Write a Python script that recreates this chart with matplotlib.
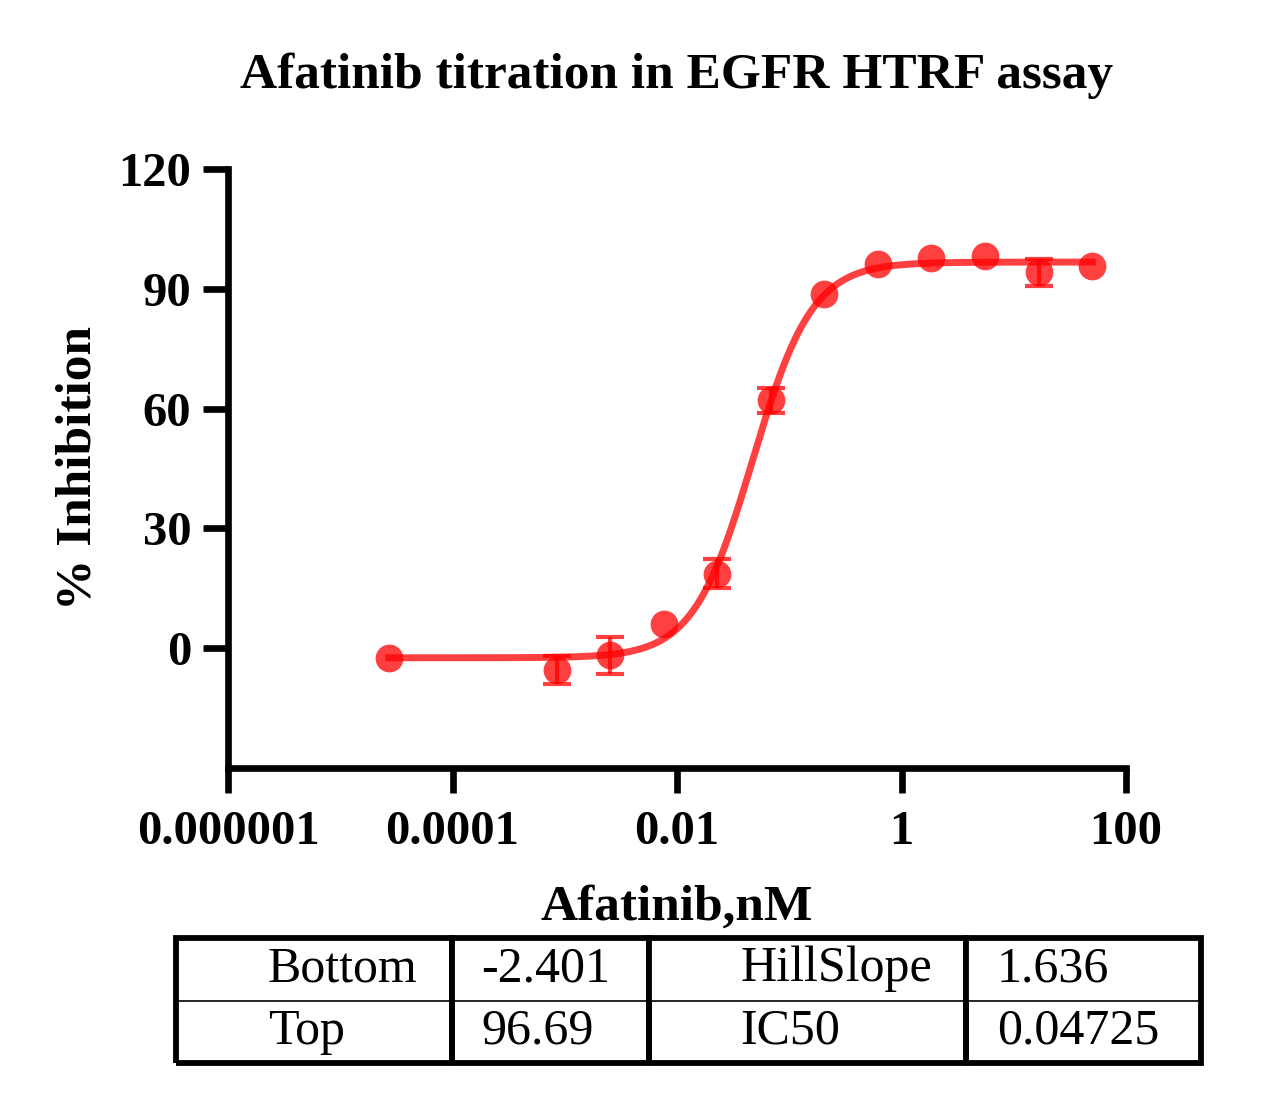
import numpy as np
import matplotlib
matplotlib.use("Agg")
import matplotlib.pyplot as plt
from matplotlib.ticker import FixedLocator, NullLocator

# concentrations (nM) and mean % inhibition
conc = [2.7e-5, 8.47e-4, 2.54e-3, 7.62e-3, 0.0229, 0.0686, 0.206,
        0.617, 1.85, 5.56, 16.7, 50.0]
inhib = [-2.5, -5.5, -1.8, 6.0, 18.7, 62.1, 88.8, 96.1, 97.8, 98.3, 94.1, 95.6]
err = [0, 3.5, 4.7, 0, 3.7, 3.1, 0, 0, 0, 0, 3.4, 0]

# fit results
fit_names = ["Bottom", "Top", "HillSlope", "IC50"]
fit_vals = ["-2.401", "96.69", "1.636", "0.04725"]
bottom, top, hill, ic50 = -2.401, 96.69, 1.636, 0.04725

xticks = [1e-6, 1e-4, 1e-2, 1, 100]
xticklabels = ["0.000001", "0.0001", "0.01", "1", "100"]
yticks = [0, 30, 60, 90, 120]

plt.rcParams['font.family'] = ['Liberation Serif', 'DejaVu Serif']

fig = plt.figure(figsize=(12.78, 10.95), dpi=100)
ax = fig.add_axes([228/1278, 1-768/1095, (1126-228)/1278, (768-169)/1095])

red = '#ff0000'
xs = np.logspace(np.log10(conc[0]), np.log10(conc[-1]), 400)
ys = bottom + (top - bottom) / (1 + (ic50 / xs) ** hill)
ax.plot(xs, ys, color=red, alpha=0.75, lw=5, zorder=2)

ax.plot(conc, inhib, 'o', color=red, alpha=0.75, ms=20, mec='none', zorder=3)
conc = np.array(conc)
inhib = np.array(inhib)
err = np.array(err)
m = err > 0
ax.errorbar(conc[m], inhib[m], yerr=err[m], fmt='none', ecolor=red, alpha=0.75,
            elinewidth=3, capsize=10, capthick=3, zorder=3)

ax.set_xscale('log')
ax.set_xlim(1e-6, 100)
ax.set_ylim(-30, 120)
ax.xaxis.set_major_locator(FixedLocator(xticks))
ax.xaxis.set_minor_locator(NullLocator())
ax.set_xticklabels(xticklabels)
ax.set_yticks(yticks)

for s in ['top', 'right']:
    ax.spines[s].set_visible(False)
for s in ['left', 'bottom']:
    ax.spines[s].set_linewidth(4.8)

ax.tick_params(direction='out', length=18, width=4.8)
ax.tick_params(axis='x', pad=12)
ax.tick_params(axis='y', pad=8.5)
for lab in ax.get_xticklabels() + ax.get_yticklabels():
    lab.set_fontsize(35)
    lab.set_fontweight('bold')

ax.set_xlabel('Afatinib,nM', fontsize=37, fontweight='bold', labelpad=22)
ax.set_ylabel('% Inhibition', fontsize=37, fontweight='bold', labelpad=12)
ax.set_title('Afatinib titration in EGFR HTRF assay', fontsize=37,
             fontweight='bold', pad=58)

# parameter table
tax = fig.add_axes([176/1278, 1-1063/1095, (1201-176)/1278, (1063-938)/1095])
tax.set_xlim(0, 1)
tax.set_ylim(0, 1)
tax.axis('off')
cells = [[fit_names[0], fit_vals[0], fit_names[2], fit_vals[2]],
         [fit_names[1], fit_vals[1], fit_names[3], fit_vals[3]]]
widths = [276/1025, 197/1025, 317/1025, 235/1025]
pads = [92/276, 29/197, 91/317, 31/235]
tbl = tax.table(cellText=cells, colWidths=widths, cellLoc='left', bbox=[0, 0, 1, 1])
tbl.auto_set_font_size(False)
for (r, c), cell in tbl.get_celld().items():
    cell.set_linewidth(4.2)
    cell.PAD = pads[c]
    cell.visible_edges = 'TLR' if r == 0 else 'BLR'
    cell.get_text().set_fontsize(36)
tax.axhline(0.5, color='black', lw=1.2)

fig.savefig('out.png', dpi=100)
